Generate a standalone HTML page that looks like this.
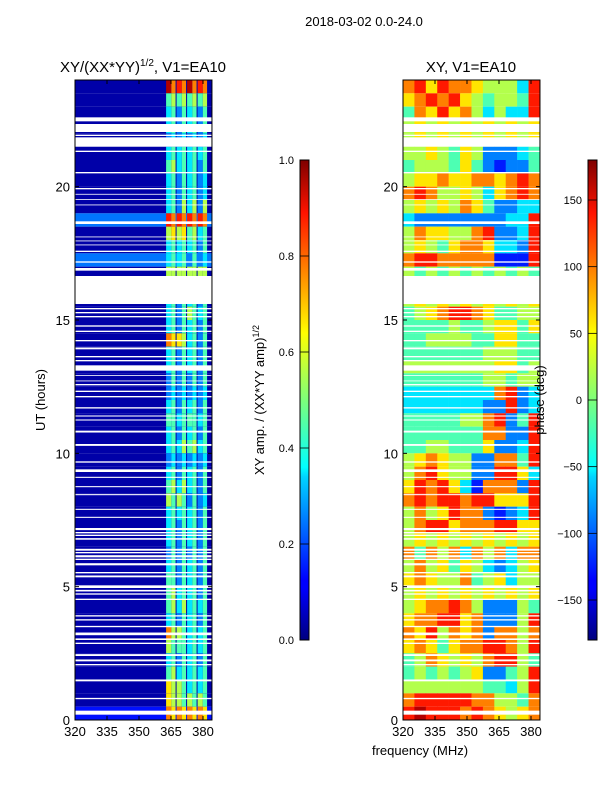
<!DOCTYPE html>
<html><head><meta charset="utf-8">
<style>
body{margin:0;background:#fff;}
svg text{font-family:"Liberation Sans",sans-serif;fill:#000;}
</style></head>
<body>
<svg id="fig" width="600" height="800" xmlns="http://www.w3.org/2000/svg">
<rect width="600" height="800" fill="#fff"/>
<text x="364" y="26" font-size="13" text-anchor="middle">2018-03-02 0.0-24.0</text>
<text x="143" y="72" font-size="15" text-anchor="middle">XY/(XX*YY)<tspan font-size="10" dy="-6">1/2</tspan><tspan dy="6">, V1=EA10</tspan></text>
<text x="471" y="72" font-size="15" text-anchor="middle">XY, V1=EA10</text>
<text x="45" y="400" font-size="13" text-anchor="middle" transform="rotate(-90 45 400)">UT (hours)</text>
<text x="420" y="755" font-size="13" text-anchor="middle">frequency (MHz)</text>
<text x="264" y="400" font-size="13" text-anchor="middle" transform="rotate(-90 264 400)">XY amp. / (XX*YY amp)<tspan font-size="9" dy="-5">1/2</tspan></text>
<defs><linearGradient id="jet" x1="0" y1="1" x2="0" y2="0">
<stop offset="0" stop-color="#00007f"/><stop offset="0.11" stop-color="#0000ff"/><stop offset="0.125" stop-color="#0000ff"/>
<stop offset="0.34" stop-color="#00d4ff"/><stop offset="0.36" stop-color="#0ff"/><stop offset="0.5" stop-color="#7dff7a"/>
<stop offset="0.64" stop-color="#ff0"/><stop offset="0.66" stop-color="#ffea00"/><stop offset="0.89" stop-color="#ff1300"/>
<stop offset="1" stop-color="#7f0000"/></linearGradient></defs>
<g id="layer"></g>
</svg>
<script>
// ---- data ----
const tickFreqs=[320,335,350,365,380];
const tickHours=[0,5,10,15,20];
const ampTicks=[0.0,0.2,0.4,0.6,0.8,1.0];
const phaseTicks=[-150,-100,-50,0,50,100,150];
// left panel: per 0.5h row (from 24h down): low-band level + 8 high-band channels (digit/10)
const ampLow=[0,0,0,0,0,0,0,0,0,0,2,0,0,2,0,0,0,0,0,0,0,0,0,0,0,0,0,0,0,0,0,0,0,0,0,0,0,0,0,0,0,0,0,0,0,0,0,1];
const ampHigh=["97879787","45454545","34243424","34243424","23232323","34343434","45343424","34243423","34243423","34253525","87878787","56564534","34343424","34342423","55555555","34243424","34243424","34245434","34243424","76653424","34243424","34243424","24242424","23232323","34243424","44344434","34243424","34354534","23232323","34243424","45353424","54542423","34343424","34243424","34243424","24242424","34243424","44243424","45343424","45353434","34243424","75543434","54443434","34243424","45343434","65543434","65545454","76767676"];
// right panel: phase, 12 channels per 0.5h row, digit 0..9 -> -162..162 deg
const phaseRows=["786877655538","678786545548","476867535338","565656565656","565656565656","556546522234","455546421224","566766776787","787556536787","565657642233","322222222338","576655782238","565467763328","788777771118","545454545454","565656565656","565656565656","456788764455","444454456646","445555446644","444444455544","555555556645","444444455455","333333337823","333333322823","444445578248","444444477228","445544462238","567655227748","578655228863","687863177728","787887886668","575687721238","578867778866","565656565656","747573757377","575646532356","676557456355","565656565656","567787522254","677886722258","768576727757","676467788758","457656578854","454545622458","555555544358","788888775547","898887876567"];
// flagged (blank) time ranges in hours
const gapStart=[22.45,22.05,21.9,21.5,21.3,20.5,19.9,19.7,19.5,19.3,18.6,18.1,17.95,17.8,17.55,17.15,16.85,15.6,15.4,15.25,15.1,14.75,14.55,14.2,13.9,13.6,13.45,13.1,12.9,12.7,12.55,12.3,12.1,11.68,11.38,11.23,10.78,10.28,9.65,9.3,9.08,8.73,8.43,7.88,7.58,7.12,7.0,6.9,6.76,6.35,6.25,6.1,6.0,5.8,5.5,5.35,4.95,4.82,4.7,4.5,3.88,3.73,3.48,3.18,3.0,2.85,2.4,2.2,2.05,1.45,0.78,0.2];
const gapEnd=[22.6,22.35,21.95,21.85,21.35,20.55,19.95,19.73,19.53,19.33,18.7,18.13,17.98,17.83,17.6,17.2,16.95,16.65,15.45,15.3,15.15,14.8,14.6,14.25,13.97,13.65,13.5,13.3,12.93,12.73,12.6,12.35,12.15,11.73,11.42,11.27,10.85,10.35,9.7,9.4,9.12,8.77,8.47,7.92,7.62,7.2,7.05,6.95,6.82,6.42,6.3,6.18,6.05,5.88,5.55,5.42,5.05,4.88,4.75,4.55,3.93,3.78,3.53,3.28,3.06,2.9,2.47,2.27,2.1,1.52,0.83,0.35];

// ---- helpers ----
const NS="http://www.w3.org/2000/svg";
const layer=document.getElementById('layer');
function jet(v){v=Math.max(0,Math.min(1,v));
 const r=Math.max(0,Math.min(1,1.5-Math.abs(4*v-3))),g=Math.max(0,Math.min(1,1.5-Math.abs(4*v-2))),b=Math.max(0,Math.min(1,1.5-Math.abs(4*v-1)));
 return `rgb(${Math.round(r*255)},${Math.round(g*255)},${Math.round(b*255)})`;}
function mk(tag,attrs){const e=document.createElementNS(NS,tag);for(const k in attrs)e.setAttribute(k,attrs[k]);layer.appendChild(e);return e;}
const Y0=720,Y1=80;
const yS=h=>Y0-(Y0-Y1)*h/24;
const xL=f=>75+(f-320)*32/15;
const xR=f=>403+(f-320)*32/15;
const FMAX=384.2;
const rowH=0.5;

// ---- left panel ----
ampHigh.forEach((s,i)=>{
 const t1=24-i*rowH,t0=t1-rowH;
 let e=mk('rect',{x:xL(320),y:yS(t1),width:xL(FMAX)-xL(320),height:yS(t0)-yS(t1),fill:jet(ampLow[i]/10+0.04)});
 
 
 for(let k=0;k<8;k++){
  const f0=362.7+k*2.46;
  const c=mk('rect',{x:xL(f0),y:yS(t1),width:xL(f0+2.46)-xL(f0)-(k%2?1:0),height:yS(t0)-yS(t1),fill:jet(+s[k]/10+0.05)});
  
  
 }
});
// ---- right panel ----
phaseRows.forEach((s,i)=>{
 const t1=24-i*rowH,t0=t1-rowH;const w=(FMAX-320)/12;
 for(let k=0;k<12;k++){
  const f0=320+k*w;
  const c=mk('rect',{x:xR(f0),y:yS(t1),width:xR(f0+w)-xR(f0)+0.3,height:yS(t0)-yS(t1),fill:jet(+s[k]/10+0.05)});
  
  
 }
});
// ---- gaps ----
gapStart.forEach((g,i)=>{
 [[xL(320),xL(FMAX)],[xR(320),xR(FMAX)]].forEach(([a,b])=>{
  const r=mk('rect',{x:a,y:yS(gapEnd[i]),width:b-a,height:yS(g)-yS(gapEnd[i]),fill:'#fff'});
  
  
 });
});
// ---- frames & ticks ----
[[xL,'left'],[xR,'right']].forEach(([xf,nm])=>{
 const a=xf(320),b=xf(FMAX);
 const fr=mk('rect',{x:a,y:Y1,width:b-a,height:Y0-Y1,fill:'none',stroke:'#000','stroke-width':1});
 
 
 tickFreqs.forEach(f=>{
  mk('line',{x1:xf(f),x2:xf(f),y1:Y0,y2:Y0-4,stroke:'#000'});
  mk('line',{x1:xf(f),x2:xf(f),y1:Y1,y2:Y1+4,stroke:'#000'});
  const t=mk('text',{x:xf(f),y:Y0+16,'font-size':13,'text-anchor':'middle'});t.textContent=f;
  
  
 });
 tickHours.forEach(h=>{
  mk('line',{x1:a,x2:a+4,y1:yS(h),y2:yS(h),stroke:'#000'});
  mk('line',{x1:b,x2:b-4,y1:yS(h),y2:yS(h),stroke:'#000'});
  const t=mk('text',{x:a-5,y:yS(h)+5,'font-size':13,'text-anchor':'end'});t.textContent=h;
  
  
 });
});
// ---- colorbars ----
function colorbar(x,ticks,vmin,vmax,nm){
 const r=mk('rect',{x:x,y:160,width:9,height:480,fill:'url(#jet)',stroke:'#000','stroke-width':1});
 
 
 ticks.forEach(v=>{const y=640-480*(v-vmin)/(vmax-vmin);
  mk('line',{x1:x,x2:x+9,y1:y,y2:y,stroke:'#000','stroke-width':0.8});
  const t=mk('text',{x:x-6,y:y+4,'font-size':11,'text-anchor':'end'});
  t.textContent=(nm==='amp-colorbar'?v.toFixed(1):String(v).replace('-','\u2212'));
  
  
 });
}
colorbar(300,ampTicks,0,1,'amp-colorbar');
colorbar(588,phaseTicks,-180,180,'phase-colorbar');
const pl=mk('text',{x:544,y:400,'font-size':13,'text-anchor':'middle',transform:'rotate(-90 544 400)'});
pl.textContent='phase (deg)';


</script>
</body></html>
